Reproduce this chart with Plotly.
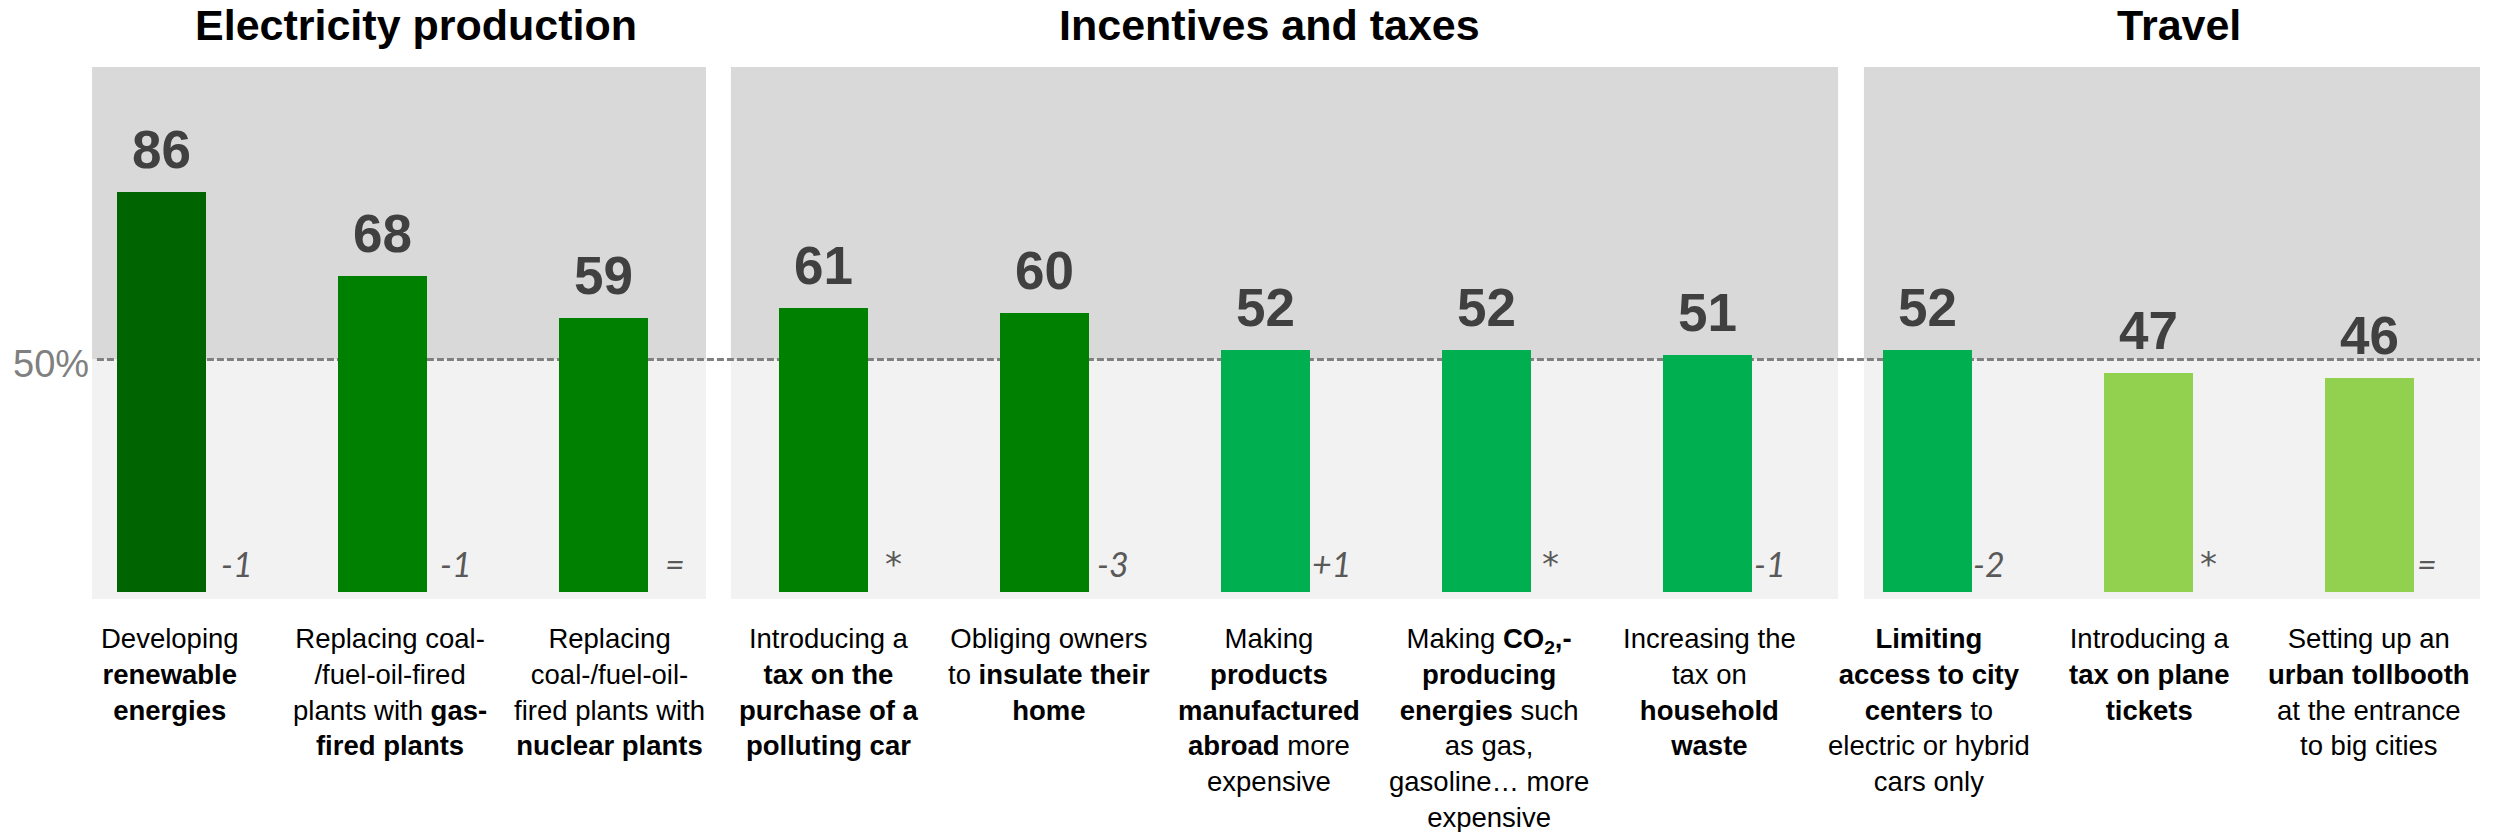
import plotly.graph_objects as go

# ---------------- data ----------------
groups = ["Electricity production", "Incentives and taxes", "Travel"]
labels = [
    "Developing<br><b>renewable</b><br><b>energies</b>",
    "Replacing coal-<br>/fuel-oil-fired<br>plants with <b>gas-</b><br><b>fired plants</b>",
    "Replacing<br>coal-/fuel-oil-<br>fired plants with<br><b>nuclear plants</b>",
    "Introducing a<br><b>tax on the</b><br><b>purchase of a</b><br><b>polluting car</b>",
    "Obliging owners<br>to <b>insulate their</b><br><b>home</b>",
    "Making<br><b>products</b><br><b>manufactured</b><br><b>abroad</b> more<br>expensive",
    "Making <b>CO<sub>2</sub>,-</b><br><b>producing</b><br><b>energies</b> such<br>as gas,<br>gasoline… more<br>expensive",
    "Increasing the<br>tax on<br><b>household</b><br><b>waste</b>",
    "<b>Limiting</b><br><b>access to city</b><br><b>centers</b> to<br>electric or hybrid<br>cars only",
    "Introducing a<br><b>tax on plane</b><br><b>tickets</b>",
    "Setting up an<br><b>urban tollbooth</b><br>at the entrance<br>to big cities",
]
values = [86, 68, 59, 61, 60, 52, 52, 51, 52, 47, 46]
changes = ["-1", "-1", "=", "*", "-3", "+1", "*", "-1", "-2", "*", "="]
bar_colors = ["#006400", "#008000", "#008000", "#008000", "#008000",
              "#00B050", "#00B050", "#00B050", "#00B050", "#92D050", "#92D050"]
threshold = 50

# ---------------- layout constants ----------------
W, H = 2496, 832
ML, MR, MT, MB = 51, 16, 67, 233
Y_MIN, Y_MAX = -1.5, 112.9
BAR_W = 0.403
FONT = "Liberation Sans, Arial, sans-serif"
panel_x = [(-0.314, 2.466), (2.579, 7.593), (7.710, 10.5)]
title_x = [1.153, 5.018, 9.137]
LABEL_X0, LABEL_STEP = 0.037, 0.996
DELTA_X0, DELTA_STEP = 0.342, 0.9918
PLOT_H = H - MT - MB

x = list(range(len(values)))

fig = go.Figure()
fig.add_trace(go.Bar(
    x=x, y=values, width=BAR_W, marker=dict(color=bar_colors, line=dict(width=0)),
    hoverinfo="skip", showlegend=False,
))

shapes = []
for (x0, x1) in panel_x:
    shapes.append(dict(type="rect", xref="x", yref="y", x0=x0, x1=x1, y0=threshold, y1=Y_MAX,
                       fillcolor="#D9D9D9", line=dict(width=0), layer="below"))
    shapes.append(dict(type="rect", xref="x", yref="y", x0=x0, x1=x1, y0=Y_MIN, y1=threshold,
                       fillcolor="#F2F2F2", line=dict(width=0), layer="below"))
shapes.append(dict(type="line", xref="x", yref="y", x0=-0.292, x1=10.5, y0=threshold, y1=threshold,
                   line=dict(color="#808080", width=3, dash="7px,3px"), layer="below"))

ann = []
# group titles
for g, tx in zip(groups, title_x):
    ann.append(dict(text=f"<b>{g}</b>", x=tx, xref="x", y=1 + (MT - 25) / PLOT_H,
                    yref="paper", xanchor="center", yanchor="middle", showarrow=False,
                    font=dict(family=FONT, size=43, color="#000000")))
# value labels
for i, v in enumerate(values):
    ann.append(dict(text=f"<b>{v}</b>", x=i, y=v, xref="x", yref="y", xanchor="center",
                    yanchor="bottom", yshift=11, showarrow=False,
                    font=dict(family=FONT, size=53, color="#404040")))
# change labels
for i, c in enumerate(changes):
    star = (c == "*")
    ann.append(dict(text=c if star else f"<i>{c}</i>", x=DELTA_X0 + DELTA_STEP * i, y=0,
                    xref="x", yref="y", xanchor="center", yanchor="bottom",
                    yshift=6, showarrow=False,
                    font=dict(family=("DejaVu Sans" if star else "Lato, Open Sans, sans-serif"),
                              size=34, color="#595959")))
# category labels
for i, lab in enumerate(labels):
    ann.append(dict(text=lab, x=LABEL_X0 + LABEL_STEP * i, y=0, xref="x", yref="paper",
                    xanchor="center", yanchor="top", yshift=-22, showarrow=False,
                    align="center", font=dict(family=FONT, size=27.5, color="#000000")))
# 50% label
ann.append(dict(text=f"{threshold}%", x=-0.32, y=threshold, xref="x", yref="y",
                xanchor="right", yanchor="middle", yshift=-4, showarrow=False,
                font=dict(family=FONT, size=38, color="#808080")))

fig.update_layout(
    width=W, height=H,
    margin=dict(l=ML, r=MR, t=MT, b=MB, pad=0),
    paper_bgcolor="#FFFFFF", plot_bgcolor="rgba(0,0,0,0)",
    xaxis=dict(range=[-0.5, 10.5], showgrid=False, zeroline=False, showticklabels=False,
               showline=False, ticks=""),
    yaxis=dict(range=[Y_MIN, Y_MAX], showgrid=False, zeroline=False, showticklabels=False,
               showline=False, ticks=""),
    shapes=shapes, annotations=ann, bargap=0,
)

# remove the default 8px body margin so the figure fills the window exactly
fig.write_html("out.html", config={"displayModeBar": False},
               post_script="document.body.style.margin='0';document.body.style.overflow='hidden';")
